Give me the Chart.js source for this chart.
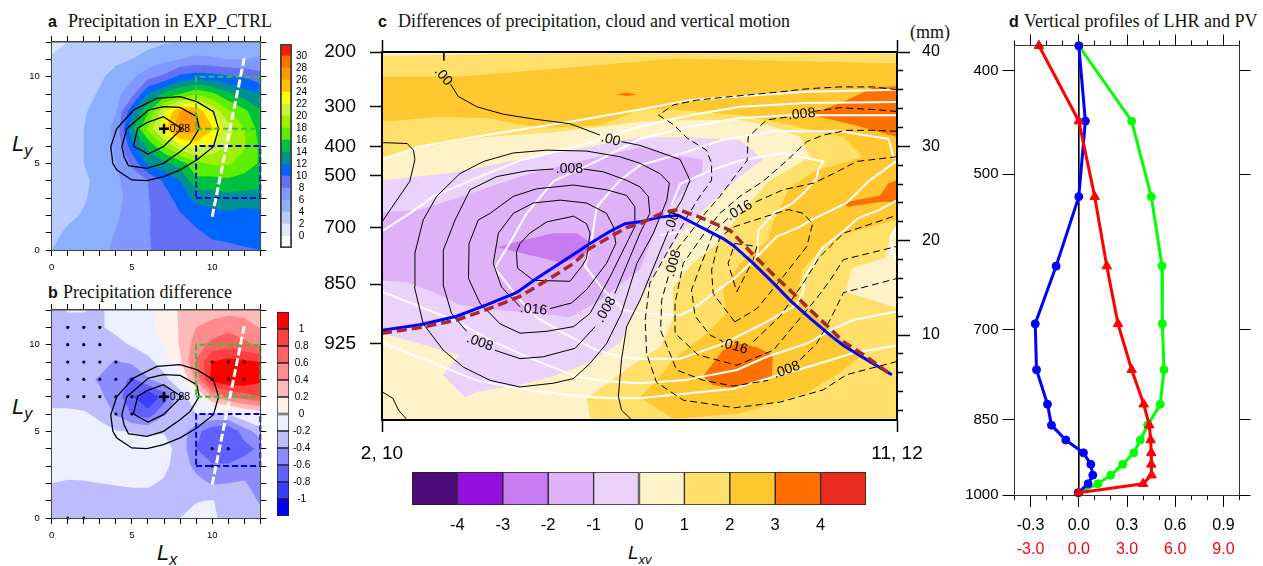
<!DOCTYPE html>
<html>
<head>
<meta charset="utf-8">
<style>
  body { margin: 0; background: #fff; width: 1263px; height: 566px; overflow: hidden; position: relative; }
  canvas { position: absolute; left: 0; top: 0; }
  .t { position: absolute; white-space: nowrap; font: 18px/20px "Liberation Serif", serif; color: #111; }
  .t b { font: bold 16px/20px "Liberation Sans", sans-serif; }
  .l { position: absolute; white-space: nowrap; font: italic 22px/24px "Liberation Sans", sans-serif; color: #111; }
  .l sub { font-size: 16px; line-height: 0; }
</style>
<script src="https://cdn.jsdelivr.net/npm/chart.js"></script>
</head>
<body>
<div class="t" style="left:48px;top:11px"><b>a</b></div>
<div class="t" style="left:68px;top:11px">Precipitation in EXP_CTRL</div>
<div class="t" style="left:48px;top:282px"><b>b</b></div>
<div class="t" style="left:63px;top:282px">Precipitation difference</div>
<div class="t" style="left:378px;top:11px"><b>c</b></div>
<div class="t" style="left:398px;top:11px">Differences of precipitation, cloud and vertical motion</div>
<div class="t" style="left:910px;top:22px">(mm)</div>
<div class="t" style="left:1009px;top:11px"><b>d</b></div>
<div class="t" style="left:1024px;top:11px">Vertical profiles of LHR and PV</div>
<div class="l" style="left:12px;top:132px">L<sub>y</sub></div>
<div class="l" style="left:12px;top:395px">L<sub>y</sub></div>
<div class="l" style="left:157px;top:541px">L<sub>x</sub></div>
<div class="l" style="left:628px;top:541px;font-size:19px">L<sub style="font-size:13px">xv</sub></div>
<script>
// panel a: precipitation on the 1 degree grid, rows from Ly=12 down to Ly=0
const precipGrid = [
  [1.5,2.0,2.6,3.0,3.2,3.4,3.6,3.8,3.9,4.0,4.0,3.9,3.9,3.9],
  [2.2,2.6,3.0,3.3,3.6,4.0,4.5,5.4,6.0,6.6,6.4,6.0,6.0,6.4],
  [2.6,3.0,3.5,3.7,4.7,5.6,7.4,8.4,10.6,11.0,10.8,10.3,9.8,8.8],
  [3.0,3.3,3.4,4.2,5.4,7.3,12,14.5,16,17.8,16.5,14.5,13,12],
  [3.3,3.6,3.8,4.7,5.9,11.4,15.6,21.5,26.2,26.1,21.5,18.3,16.5,14.3],
  [3.5,3.8,4.0,4.9,6.6,13.5,18.5,23.5,27.6,26.8,24.3,21,18,15.2],
  [3.6,3.9,4.0,5.0,6.3,11.2,14.5,18,21.5,23,21.5,20,18.3,15.6],
  [3.5,3.8,4.0,5.0,6.0,8.4,12.5,13.4,15,17.5,18.3,18.3,17,15.8],
  [3.3,3.5,3.7,4.5,5.6,7.0,8.0,10.3,12,15.5,15.3,15.6,15.3,15],
  [3.1,3.3,3.8,4.7,5.4,6.7,7.9,9.1,10.9,12.6,12.9,13.2,13,13],
  [3.0,3.5,4.2,4.9,5.7,6.9,7.9,8.5,9.8,10.7,11.3,11.6,11.2,11.5],
  [3.3,4.4,4.6,5.1,6.1,7.1,7.95,8.4,9.0,9.7,10.4,10.4,10.4,10.6],
  [4.0,4.4,4.8,5.5,6.4,7.2,7.95,8.2,8.5,9.0,9.4,9.7,9.9,10]
];
const precipLevels = [0,2,4,6,8,10,12,14,16,18,20,22,24,26,28,30];
const precipColors = ['#ffffff','#dfe8ff','#b8ccff','#8cb0ff','#8098ff','#6470f5','#0064ff','#009090','#00c040','#5cf000','#a0f000','#c8f53c','#ffff00','#ffc000','#ff9a00','#ff7000','#ff1a00'];

// panel b: precipitation difference, same grid
const diffGrid = [
  [-.25,-.19,-.19,-.22,-.15,-.1,-.04,.05,.23,.28,.3,.33,.32,.31],
  [-.3,-.26,-.26,-.22,-.15,-.1,-.04,.06,.22,.4,.48,.55,.5,.38],
  [-.33,-.3,-.3,-.3,-.26,-.18,-.1,.01,.22,.5,.66,.72,.65,.55],
  [-.35,-.32,-.33,-.33,-.42,-.36,-.26,-.1,.16,.62,1.01,1.08,1.05,1.0],
  [-.35,-.35,-.35,-.42,-.5,-.64,-.42,-.26,-.05,.45,1.1,1.2,1.18,1.05],
  [-.3,-.3,-.32,-.37,-.48,-.78,-.98,-.72,-.3,-.05,.4,.6,.7,.8],
  [-.15,-.15,-.17,-.25,-.42,-.61,-.72,-.42,-.3,-.2,-.22,-.2,-.02,.07],
  [-.1,-.1,-.1,-.13,-.19,-.21,-.24,-.21,-.3,-.52,-.75,-.78,-.5,-.3],
  [-.1,-.08,-.07,-.07,-.08,-.08,-.1,-.13,-.27,-.6,-.76,-.78,-.68,-.55],
  [-.13,-.12,-.1,-.09,-.1,-.1,-.12,-.16,-.28,-.46,-.57,-.57,-.5,-.42],
  [-.2,-.22,-.22,-.2,-.19,-.18,-.18,-.22,-.27,-.33,-.42,-.4,-.38,-.5],
  [-.27,-.28,-.28,-.28,-.27,-.26,-.26,-.25,-.23,-.21,-.19,-.27,-.3,-.42],
  [-.3,-.3,-.3,-.3,-.3,-.28,-.27,-.25,-.2,-.14,-.17,-.26,-.3,-.35]
];
const diffLevels = [-1,-.8,-.6,-.4,-.2,0,.2,.4,.6,.8,1];
const diffColors = ['#0000ff','#3c3cff','#6060ff','#8c8cff','#bcbcff','#eef0ff','#fff0ec','#ffbaba','#ff8c8c','#ff6060','#ff4040','#ff0000'];
const diffDots = [[1,11],[2,11],[3,11],[1,10],[2,10],[3,10],[1,9],[2,9],[3,9],[4,9],[10,9],[11,9],[12,9],
  [1,8],[2,8],[3,8],[4,8],[5,8],[10,8],[11,8],[12,8],[1,7],[2,7],[3,7],[4,7],[5,7],[4,6],[5,6],[10,4],[11,4],[10,3],[1,0],[2,0]];

// black contours shared by panels a and b
const ringOuter = [[3.68,5.96],[4.06,7],[5.1,8.07],[6.55,8.75],[8,8.85],[9.04,8.56],[10.08,7.98],[10.4,7],[10.08,5.96],[9.04,5.19],[8,4.62],[6.97,4.23],[5.93,4],[4.99,4.04],[4.06,4.62],[3.81,5],[3.68,5.96]];
const ringMiddle = [[4.37,5.96],[4.68,7],[6.03,8.07],[6.96,8.27],[8,8.23],[9.04,7.69],[9.19,7],[8.63,6.15],[8,5.67],[6.96,5],[5.93,4.71],[4.78,4.87],[4.51,5.38],[4.37,5.96]];
const ringInner = [[5.09,6],[5.36,7.02],[5.93,7.35],[6.96,7.69],[8.1,7],[6.96,5.96],[6,5.54],[5.09,6]];
const centre = [[7,7]];
const greenBox = [[9,7],[13,7],[13,10],[9,10],[9,7]];
const blueBox = [[9,3],[13,3],[13,6],[9,6],[9,3]];
const sectionLine = [[10,1.92],[12,11.06]];
const lxTicks = [0,1,2,3,4,5,6,7,8,9,10,11,12,13];
const lyTicks = [0,1,2,3,4,5,6,7,8,9,10,11,12];

// panel c: x is percent along the section, y is the mm axis
const fillPale = [[0,28.8],[7.4,29.9],[20.4,31],[33.2,31.5],[42.9,32.1],[50.1,32.6],[58.4,32.8],[69.5,32.8],[75.9,32.1],[81.2,31],[83.1,28.9],[74.8,26.2],[67.6,21.5],[64.3,19.3],[60.4,17.6],[56.5,15.1],[56.5,11.6],[54,8.7],[50.1,7.4],[39.8,3.3],[40.4,1],[0,1]];
const fillPaleTop = [[0,40],[50.1,40],[0,39.6]];
const fillPaleRight = [[89.9,14.6],[91.3,17.1],[97.7,18.2],[98.6,20.1],[100,21.6],[100,12.9]];
const fillAmber = [[0,37.4],[15.1,37.4],[50.1,39],[56.5,39.3],[100,38.8],[100,22.2],[90.3,20.8],[85,19],[81.7,16.9],[80.6,14.5],[82.5,12.7],[86.4,10.9],[92.8,7.7],[88.9,6],[82.5,3.9],[69.5,1.7],[56.5,1.1],[50.1,3.4],[53.4,5.2],[56.5,7.4],[62.3,9.8],[67,12.3],[66.2,14.8],[69.5,17.6],[75,20.1],[75.9,21.9],[79.2,25.7],[84.5,27.5],[93.4,28.9],[89.5,31],[77.3,32.5],[69.5,33.3],[56.5,33.9],[50.1,33.9],[42.3,32.2],[33.2,32],[29.3,32.1],[20.4,33],[10.7,33.1],[0,32.6]];
const fillLilac = [[0,26.4],[13.8,27.2],[26.8,28.6],[39.8,29.9],[50.1,31],[59.8,30.9],[69.5,30.7],[74,28.6],[69.5,26.8],[63.1,23.6],[58.4,21.1],[54,17.6],[50.1,13.7],[46.2,9.2],[39.8,7],[33.2,5.6],[26.8,4.7],[18.4,4],[16.1,3.4],[11.8,5.8],[15.1,7.9],[0,10.2]];
const fillMauve = [[0,23],[7.4,23.3],[15.1,24.6],[26.8,26.8],[39.8,28.6],[50.1,29.9],[56.5,29.1],[62.3,28.6],[62.1,27.2],[59.2,25.7],[55.9,23.6],[54,22.5],[50.1,16.9],[42.3,13.7],[36.5,11.9],[30.1,12.3],[21.6,12.7],[15.1,13.2],[9.9,14.6],[4.9,15.6],[0,15.8]];
const fillViolet = [[22.3,19.3],[26.2,19.9],[33.2,20.8],[37.9,20.8],[40.4,19.8],[39.8,18.7],[35.1,17.6],[30.1,18.3],[26.2,18.8]];
const fillOrangeTop = [[83.7,33.5],[89.5,34.7],[95.3,36.2],[100,36.4],[100,31],[91.5,32.3],[85,33.1]];
const fillOrangeMid = [[89.3,24],[96.7,24.8],[98.3,26.1],[100,26.4],[100,24.1],[96.7,24.1],[90.5,23.6]];
const fillOrangeSpot = [[45.6,35.5],[47.6,35.7],[49.5,35.5],[47.6,35.3]];
const fillOrangeLow = [[62.3,5.6],[66.2,8.4],[68.9,9.2],[72.8,8.7],[75.9,7.9],[75.7,5.6],[72,4.9],[67.6,4.4],[64.3,4.7]];

const solidLines = [
  [[12,40],[12,39.1]],
  [[13.3,36.6],[14.8,35.3],[18.4,34.2],[23.6,33.4],[29.4,32.9],[36.5,32.4],[42.3,31.2]],
  [[46.5,30.5],[50.1,30.1],[53.3,29.5],[57.9,28.6],[59.8,26.4],[58.2,24.3],[56.6,22.9]],
  [[55.6,21],[50.1,13.7],[47.5,10.9],[46.5,7.4],[45.9,3.5],[46.5,2.05],[48.5,1]],
  [[0,30.4],[4.9,30.3],[6.1,29.6],[6.4,28.6],[5.4,26.3],[0,22]],
  [[0,4],[2.1,3.3],[3.2,2.05],[4.8,1.06]],
  [[50.1,28.2],[54,27.1],[55.8,26.1],[55.3,24.3],[52.7,20.8],[49.5,17.6],[46.5,12.3],[43.6,9.1],[40.4,7],[37.2,5.4],[33.3,4.9],[26.8,4.5],[21,5.2],[15.8,6.6],[11.9,8.4],[8,11.2],[6.3,15.1],[6.4,18.7],[8,22.2],[10.6,24.7],[15.1,27.1],[19.7,28.4],[25.5,29.3],[32,29.6],[39.7,29.5],[46.2,28.9],[50.1,28.2]],
  [[39.1,27.6],[43,27.3],[47.5,26.4],[50.1,25.7],[51.7,24.7],[52,22.9],[50.1,20.8],[48.2,18.3],[45.2,14.4]],
  [[41.4,10.9],[37.5,8.6],[31.3,7.7],[26.8,7.5],[21.9,8.4]],
  [[16.4,10.4],[13.5,12.3],[12,15.1],[11.9,19],[14.2,22.2],[17.1,25.4],[22.3,26.8],[28.1,27.4],[33.3,27.6]],
  [[18.7,22.2],[16.9,19.7],[16.8,16],[19,13.4],[22.9,11.2],[26.8,10.2],[32,10.4],[37.2,10.9],[40.4,12.3],[44.3,16.2],[49.1,21.5],[49.1,23.6],[47.5,24.8],[43.6,25.4],[37.2,25.9],[30,25.5],[25.5,24.7],[21,22.9],[18.7,22.2]],
  [[22.6,20.8],[21.6,17.6],[23.2,15.1],[26.8,13]],
  [[32.6,12.8],[36.8,13.4],[39.7,14.8],[43.6,17.6],[45.4,19.7],[44.9,21.5],[43.6,22.9],[39.7,24],[34.6,24.3],[29.4,24],[25.5,22.9],[22.6,20.8]],
  [[26.8,19.7],[26.1,18.8],[26.3,17.1],[29.4,15.8],[36.5,15.7],[38.8,17.3],[39.7,18.1],[40.4,20.8],[39.7,21.8],[37.2,22.6],[32,22],[28.7,20.8],[26.8,19.7]]
];
const dashedLines = [
  [[100,36],[95.4,36.3],[88.9,36.3],[82.5,36.1],[76,35.7],[68.2,35.3],[61.1,34.9],[56.6,34.4],[53.7,33.3],[56.6,32.3],[59.2,30.9],[63,29.6],[64,28.2],[64,26.4],[61.7,24.7],[59.2,22.5],[57.5,20.8],[52,15.5],[51.1,11.6],[51.4,8],[53.3,5],[58.5,3.1],[68.5,2.3],[77.3,2.9],[85.7,4.2],[90.2,5.8],[100,7.2]],
  [[100,33.7],[95.4,33.9],[88.9,34.1],[83.8,33.7]],
  [[78.6,33.1],[74.7,32.8],[71.1,31],[70.9,28.5],[68.9,27.1],[65.6,24.7],[62.1,22.5],[59.8,20.8],[57.2,19]],
  [[55.6,16.2],[54.3,13.7],[54.1,10.5],[57.2,6.3],[62.4,5.2],[68.2,4.6],[75,5.2]],
  [[81.2,7.4],[84.4,9.1],[87,11.6],[89.6,14.5],[100,16]],
  [[100,31.6],[95.4,31.7],[90.2,31.7],[85.7,31.2],[82.5,30.5],[78.6,28.5],[74,26.3],[69.5,24.7],[65.6,22.9],[63,21.1],[58.5,17.6],[56.9,13.4],[56.9,10.2],[61.4,7.9],[68.9,6.8],[76,8.4],[79.2,10.5],[84.4,13.9],[87,15.8],[89.6,18],[100,19.4]],
  [[100,28.9],[92.2,28.4],[87.6,27.1],[83.8,26.1],[77.9,25.4],[72.1,24]],
  [[67.2,22.4],[64.3,20.8],[60.1,14.8],[60.8,12],[63.7,10],[66.3,9.3]],
  [[72.1,9.3],[77.3,12],[81.8,15.5],[85,18.3],[89.6,20.8],[100,22.7]],
  [[68.5,11.4],[72.8,12.8],[77.9,16.2],[82.5,19.4],[83.6,21.8],[81.8,22.9],[78.9,23.3],[74.7,22.6],[68.5,21.5],[65.6,20.4],[64,16.9],[64.3,14.4],[68.5,11.4]],
  [[68.5,19.7],[72.8,19.4],[72.1,18],[68.9,14.6],[67.2,17.6],[68.5,19.7]]
];
const whiteLines = [
  [[0,28.6],[7.4,30],[20.3,31.2],[36.5,32.6],[50.1,33.9],[59.8,34.9],[69.5,35.3],[82.5,35.8],[100,36]],
  [[0,21],[5.4,22.9],[10,24.7],[19,26.8],[26.8,28.5],[39.7,30.3],[50.1,32.1],[59.8,33.3],[69.5,34.2],[82.5,34.6],[100,34.7]],
  [[100,33.3],[79.2,33.3],[69.5,33],[59.8,32.1],[50.1,30.8],[42.3,28.6],[33.3,26.3],[28.1,22.9],[25.5,20.4],[21.9,17.1],[24.2,15.5],[26.1,14.1],[30,11.9],[35.2,10.2],[41.7,8.4],[46.2,7.7],[50.1,7.5],[57.9,7.5],[66.3,9.1],[74,11.2],[80.5,13.2],[81.8,14.6],[82.1,16.2],[83.8,17.6],[85.4,19.2],[89.6,21],[92.5,22.4],[96.7,23.3],[100,24.3]],
  [[100,28.7],[99.3,28.9],[98.3,30.8],[88.9,31.6],[76,31.6],[66.3,30.7],[58.5,29.3],[50.1,28],[46.2,26.4],[41.7,23.6],[40.7,20],[39.4,17.3],[43,14.8],[46.9,12.7],[50.1,12.3],[57.9,12.1],[60.5,12.8],[64.3,14.4],[68.9,16.2],[72.8,18.3],[76.6,20.4],[81.2,21.5],[83.4,22.2],[90.2,24],[94.7,26.4],[100,28.5]],
  [[56.2,23.8],[57.9,26],[64,27.5],[69.5,28.5],[77.9,29.3],[85.7,28.4],[84.7,27.5],[84.4,26.6],[81.8,25],[79.5,23.9],[76,22.9],[73.1,21.1],[72.8,18.3]],
  [[0,14.6],[13.9,11.6],[21.6,9.3],[29.4,7.4],[37.8,5.6],[43.6,5.1],[50.1,4.9],[58.5,5.2],[68.9,6.3],[74.7,7.7],[82.5,9.1],[87,10.5],[91.5,11.6],[100,12.5]],
  [[0,9.2],[4.8,8.2],[11.9,6.6],[18.4,5.2],[26.8,4.3],[36.5,3.6],[44.3,3.3],[50.1,3.3],[68.2,4.3],[76,5.6],[83.8,6.8],[91.5,8.1],[100,8.9]],
  [[62.4,21.7],[58.5,20.9],[54,20.6]],
  [[100,21.5],[98.7,20.4],[99,19],[100,18]]
];
const rainCtrl = [[0,10.5],[7.4,11.1],[14.5,12],[20.3,13.2],[26.1,14.5],[30,16],[35.9,18.1],[40.4,19.7],[44.3,21],[47.2,21.8],[50.1,22],[54,22.5],[57.5,22.7],[66.3,20.2],[68.2,19.5],[72.1,17.6],[76,15.5],[79.2,13.7],[83.1,11.8],[87,10],[89.6,8.9],[94.1,7.4],[99,5.8]];
const rainExp = [[0,10.2],[7.4,10.8],[14.5,11.6],[20.3,12.7],[26.8,14.1],[32,15.8],[37.2,17.6],[40.4,19.2],[44.9,20.6],[47.5,21.4],[50.1,21.8],[54.6,23],[57.5,23.3],[61.7,22.5],[67.6,21.1],[72.1,18.5],[76,16.4],[79.9,14.4],[83.1,12.7],[87,10.7],[89.6,9.3],[94.1,7.7],[98.6,5.9]];
const contourLabels = [
  ['.00',11.9,37.4,50],['.00',44.4,30.7,15],['.008',36.4,27.6,0],['.008',19,9.2,20],['.016',29.4,12.7,5],
  ['.008',43.5,12.7,-60],['.008',81.5,33.4,-5],['.016',69.4,23.2,-30],['.00',56.4,22,-70],['.008',56.6,17.6,-75],
  ['.016',68.4,8.8,15],['.008',78.6,6.3,-20]
];
const pressureLabels = ['200','300','400','500','700','850','925'];
const pressureTickMm = [40,34.2,30,26.9,21.4,15.4,9.1];
const mmMajor = [10,20,30,40];
const mmMinor = [2,4,6,8,12,14,16,18,22,24,26,28,32,34,36,38];
const sectionTicks = [0,100];
const lxvEdges = [-5,-4,-3,-2,-1,0,1,2,3,4,5];
const lxvTicks = [-4,-3,-2,-1,0,1,2,3,4];
const lxvColors = ['#4b0a78','#9410de','#c87cf2','#dfb2f7','#ead2fb','#fef3c8','#ffe06a','#ffc830','#ff7000','#e82c20'];

// panel d
const profileLevels = [379,446,525,610,691,763,822,860,888,913,936,958,976,995];
const pvDiff = [0,.041,0,-.141,-.271,-.263,-.195,-.17,-.081,.029,.075,.087,.058,-.004];
const pvCtrl = [0,.329,.451,.518,.52,.53,.507,.429,.383,.342,.273,.199,.12,0];
const lhrDiff = [-2.48,0,.99,1.74,2.44,3.29,4.04,4.39,4.47,4.51,4.51,4.53,4,-.02];
const pvMajor = [-.3,0,.3,.6,.9];
const pvMinor = [-.4,-.2,-.1,.1,.2,.4,.5,.7,.8,1];
const lhrTicks = [-3,0,3,6,9];
const pressureProfileTicks = [400,500,700,850,1000];

const W = 1263, H = 566;
const SANS = '"Liberation Sans", sans-serif';
Chart.defaults.animation = false;
Chart.defaults.events = [];
Chart.defaults.plugins.legend.display = false;
Chart.defaults.plugins.tooltip.enabled = false;

// every axis has a fixed thickness so the plot boxes land where they should
const axis = (position, min, max, values, o = {}) => {
  const horizontal = position === 'top' || position === 'bottom';
  return {
    type: o.type || 'linear', axis: horizontal ? 'x' : 'y', position, min, max,
    reverse: !!o.reverse, weight: o.weight || 0, thickness: o.size || 0,
    afterBuildTicks: s => { s.ticks = values.map(value => ({ value })); },
    afterFit: s => { if (horizontal) s.height = o.size || 0; else s.width = o.size || 0; },
    border: { display: !!o.line, color: o.line, width: o.lineWidth || 1, z: 1 },
    grid: { drawOnChartArea: false, drawTicks: !!o.tick, tickLength: o.tick || 0, tickColor: o.tickColor || '#000', tickWidth: o.tickWidth || 1 },
    ticks: { display: !!o.labels, autoSkip: false, maxRotation: 0, minRotation: 0, padding: o.pad || 0, color: o.color || '#000',
      font: { family: SANS, size: o.font || 10 }, callback: o.labels, crossAlign: o.crossAlign || 'near' }
  };
};

const paddingFor = ([l, t, r, b], scales) => {
  const used = { left: 0, top: 0, right: 0, bottom: 0 };
  Object.values(scales).forEach(s => { if (s.position) used[s.position] += s.thickness || 0; });
  return { left: l - used.left, top: t - used.top, right: W - r - used.right, bottom: H - b - used.bottom };
};

const makeChart = (area, config, scales) => {
  const canvas = document.createElement('canvas');
  canvas.width = W;
  canvas.height = H;
  document.body.appendChild(canvas);
  config.options = Object.assign({ responsive: false, maintainAspectRatio: false, scales, layout: { padding: paddingFor(area, scales) } }, config.options);
  return new Chart(canvas.getContext('2d'), config);
};

const pts = a => a.map(([x, y]) => ({ x, y }));
const poly = (a, color) => ({ data: pts(a), showLine: true, fill: 'shape', backgroundColor: color, borderWidth: 0, pointRadius: 0 });
const line = (a, color, width, dash, clip) => ({ data: pts(a), showLine: true, fill: false, borderColor: color, borderWidth: width, borderDash: dash || [], pointRadius: 0, clip: clip === false ? false : undefined });
// chart.js paints the first dataset last, so number them the other way round
const stacked = list => { list.forEach((d, i) => { d.order = list.length - i; }); return list; };

// filled contours: each grid cell is clipped at the level, edges cut linearly
const clipAbove = (cell, level) => {
  const out = [];
  cell.forEach((p, i) => {
    const q = cell[(i + 1) % cell.length];
    if (p[2] >= level) out.push(p);
    if ((p[2] >= level) !== (q[2] >= level)) {
      const f = (level - p[2]) / (q[2] - p[2]);
      out.push([p[0] + f * (q[0] - p[0]), p[1] + f * (q[1] - p[1]), level]);
    }
  });
  return out;
};
const contourFill = (rows, levels, colors) => ({
  id: 'contourFill',
  beforeDatasetsDraw(chart) {
    const { ctx, scales: { x, y }, chartArea: a } = chart;
    const top = rows.length - 1;
    ctx.save();
    ctx.beginPath();
    ctx.rect(a.left, a.top, a.width, a.height);
    ctx.clip();
    ctx.fillStyle = colors[0];
    ctx.fillRect(a.left, a.top, a.width, a.height);
    levels.forEach((level, n) => {
      ctx.beginPath();
      for (let r = 0; r < top; r++) {
        for (let c = 0; c < rows[r].length - 1; c++) {
          const corners = [[c, top - r, rows[r][c]], [c + 1, top - r, rows[r][c + 1]], [c + 1, top - r - 1, rows[r + 1][c + 1]], [c, top - r - 1, rows[r + 1][c]]];
          const shape = clipAbove(corners, level);
          shape.forEach((v, k) => {
            const px = x.getPixelForValue(v[0]), py = y.getPixelForValue(v[1]);
            if (k) ctx.lineTo(px, py); else ctx.moveTo(px, py);
          });
          if (shape.length) ctx.closePath();
        }
      }
      ctx.fillStyle = colors[n + 1];
      ctx.fill();
    });
    ctx.restore();
  }
});

const textMarks = (items, size) => ({
  id: 'textMarks',
  afterDatasetsDraw(chart) {
    const { ctx, scales: { x, y } } = chart;
    items.forEach(([text, vx, vy, angle, align]) => {
      ctx.save();
      ctx.translate(x.getPixelForValue(vx), y.getPixelForValue(vy));
      ctx.rotate((angle || 0) * Math.PI / 180);
      ctx.font = size + 'px ' + SANS;
      ctx.fillStyle = '#000';
      ctx.textAlign = align || 'center';
      ctx.textBaseline = 'middle';
      ctx.fillText(text, 0, 0);
      ctx.restore();
    });
  }
});

const mapPanel = (area, grid, levels, colors, dots) => {
  const everyFive = v => (v % 5 === 0 ? String(v) : '');
  const frame = { line: '#444', tick: 6 };
  const list = [];
  if (dots) list.push({ data: pts(dots), showLine: false, pointRadius: 1.6, pointBackgroundColor: '#000', pointBorderWidth: 0, clip: false });
  [ringOuter, ringMiddle, ringInner].forEach(r => list.push(line(r, '#000', 1.3)));
  list.push(line(greenBox, '#2fc53a', 2, [6, 3], false));
  list.push(line(blueBox, '#0000f0', 2, [6, 3], false));
  list.push(line(sectionLine, '#fff', 3, [8, 3]));
  list.push({ data: pts(centre), showLine: false, pointStyle: 'cross', pointRadius: 5, pointBorderWidth: 2.5, pointBorderColor: '#000' });
  makeChart(area, {
    type: 'scatter',
    data: { datasets: stacked(list) },
    plugins: [contourFill(grid, levels, colors), textMarks([['0.88', 7.35, 7, 0, 'left']], 10.5)]
  }, {
    x: axis('bottom', 0, 13, lxTicks, { ...frame, size: 26, labels: everyFive, pad: 6, font: 9.5 }),
    xTop: axis('top', 0, 13, lxTicks, { ...frame, lineWidth: 1.5 }),
    y: axis('left', 0, 12, lyTicks, { ...frame, size: 40, labels: everyFive, pad: 6, font: 9.5 }),
    yRight: axis('right', 0, 12, lyTicks, frame)
  });
};

const colorBar = (area, edges, colors, ticks, o) => {
  const last = edges.length - 1;
  const box = { borderSkipped: false, grouped: false, barPercentage: 1, categoryPercentage: 1 };
  const datasets = colors.map((c, i) => ({ ...box, data: [[edges[i], edges[i + 1]]], backgroundColor: c, borderColor: o.edge || c, borderWidth: o.edge ? 1 : 0 }));
  if (o.frame) datasets.push({ ...box, order: -1, data: [[edges[0], edges[last]]], backgroundColor: 'transparent', borderColor: o.frame, borderWidth: 1.5 });
  const value = axis(o.horizontal ? 'bottom' : 'right', edges[0], edges[last], ticks, { size: o.size, labels: o.labels, pad: o.pad, font: o.font, crossAlign: o.horizontal ? 'near' : 'center' });
  const index = { type: 'category', display: false };
  makeChart(area, {
    type: 'bar',
    data: { labels: [''], datasets },
    options: { indexAxis: o.horizontal ? 'y' : 'x' }
  }, o.horizontal ? { x: value, y: index } : { x: index, y: value });
};

mapPanel([51.7, 42, 260.3, 250], precipGrid, precipLevels, precipColors);
mapPanel([51.7, 310, 260.3, 518], diffGrid, diffLevels, diffColors, diffDots);

colorBar([280, 44, 292, 248], [-2, ...precipLevels, 32], precipColors, precipLevels, { frame: '#444', size: 30, labels: v => String(v), pad: 4, font: 10 });
colorBar([277, 312, 289, 516], [-1.2, ...diffLevels, 1.2], diffColors, diffLevels, { edge: '#222', size: 34, labels: (v, i) => String(diffLevels[i]), pad: 4, font: 10 });
colorBar([412, 472, 866, 505], lxvEdges, lxvColors, lxvTicks, { edge: '#222', horizontal: true, size: 30, labels: v => String(v), pad: 11, font: 16.5 });

// panel c
const black2 = { line: '#000', lineWidth: 2, tickWidth: 1.5 };
makeChart([382, 52, 897, 420], {
  type: 'scatter',
  data: {
    datasets: stacked([
      poly([[0, 1], [100, 1], [100, 40], [0, 40]], '#ffe06a'),
      poly(fillPale, '#fef3c8'),
      poly(fillPaleTop, '#fef3c8'),
      poly(fillPaleRight, '#fef3c8'),
      poly(fillAmber, '#ffc830'),
      poly(fillLilac, '#ead2fb'),
      poly(fillMauve, '#dfb2f7'),
      poly(fillViolet, '#c87cf2'),
      poly(fillOrangeTop, '#ff7000'),
      poly(fillOrangeMid, '#ff7000'),
      poly(fillOrangeSpot, '#ff7000'),
      poly(fillOrangeLow, '#ff7000'),
      ...whiteLines.map(a => line(a, '#fff', 2)),
      ...solidLines.map(a => line(a, '#000', 1)),
      ...dashedLines.map(a => line(a, '#000', 1, [7, 4])),
      line(rainCtrl, '#0000ff', 3),
      line(rainExp, '#a52a2a', 3.5, [10, 5])
    ])
  },
  plugins: [textMarks(contourLabels, 14)]
}, {
  x: axis('bottom', 0, 100, sectionTicks, { ...black2, tick: 12, size: 50, labels: v => (v === 0 ? '2, 10' : '11, 12'), pad: 10, font: 19 }),
  xTop: axis('top', 0, 100, sectionTicks, { ...black2, tick: 12 }),
  y: axis('left', 1, 40, pressureTickMm, { ...black2, tick: 12, size: 90, labels: (v, i) => pressureLabels[i], pad: 14, font: 19 }),
  yRight: axis('right', 1, 40, mmMajor, { ...black2, tick: 13, size: 60, weight: 1, labels: v => String(v), pad: 12, font: 16 }),
  yMinor: axis('right', 1, 40, mmMinor, { tick: 6, tickWidth: 1.5 })
});

// panel d
const profile = (xs, color, style, radius, xAxisID) => ({
  data: xs.map((x, i) => ({ x, y: profileLevels[i] })),
  showLine: true, fill: false, borderColor: color, borderWidth: 3, clip: false, xAxisID,
  pointStyle: style, pointRadius: radius, pointBackgroundColor: color, pointBorderColor: color, pointBorderWidth: 1
});
const frameD = { line: '#333' };
const pressureAxis = { type: 'logarithmic', reverse: true };
makeChart([1014.5, 45.5, 1239.5, 495], {
  type: 'scatter',
  data: {
    datasets: stacked([
      line([[0, 378.8], [0, 1000]], '#000', 1),
      profile(pvCtrl, '#00ff00', 'circle', 4, 'x'),
      profile(pvDiff, '#0000ff', 'circle', 4, 'x'),
      profile(lhrDiff, '#ff0000', 'triangle', 5.5, 'xLhr')
    ])
  }
}, {
  xMinor: axis('bottom', -.4, 1, pvMinor, { tick: 5, weight: 0 }),
  x: axis('bottom', -.4, 1, pvMajor, { ...frameD, tick: 12, size: 40, weight: 1, labels: v => v.toFixed(1), pad: 9, font: 16 }),
  xLhr: axis('bottom', -4, 10, lhrTicks, { size: 30, weight: 2, labels: v => v.toFixed(1), pad: 5, font: 16, color: '#f00' }),
  xTopMinor: axis('top', -.4, 1, pvMinor, { tick: 5 }),
  xTop: axis('top', -.4, 1, pvMajor, { ...frameD, tick: 11 }),
  y: axis('left', 378.8, 1000, pressureProfileTicks, { ...pressureAxis, ...frameD, tick: 12, size: 60, labels: v => String(v), pad: 4, font: 15 }),
  yRight: axis('right', 378.8, 1000, pressureProfileTicks, { ...pressureAxis, ...frameD, tick: 11 })
});
</script>
</body>
</html>
